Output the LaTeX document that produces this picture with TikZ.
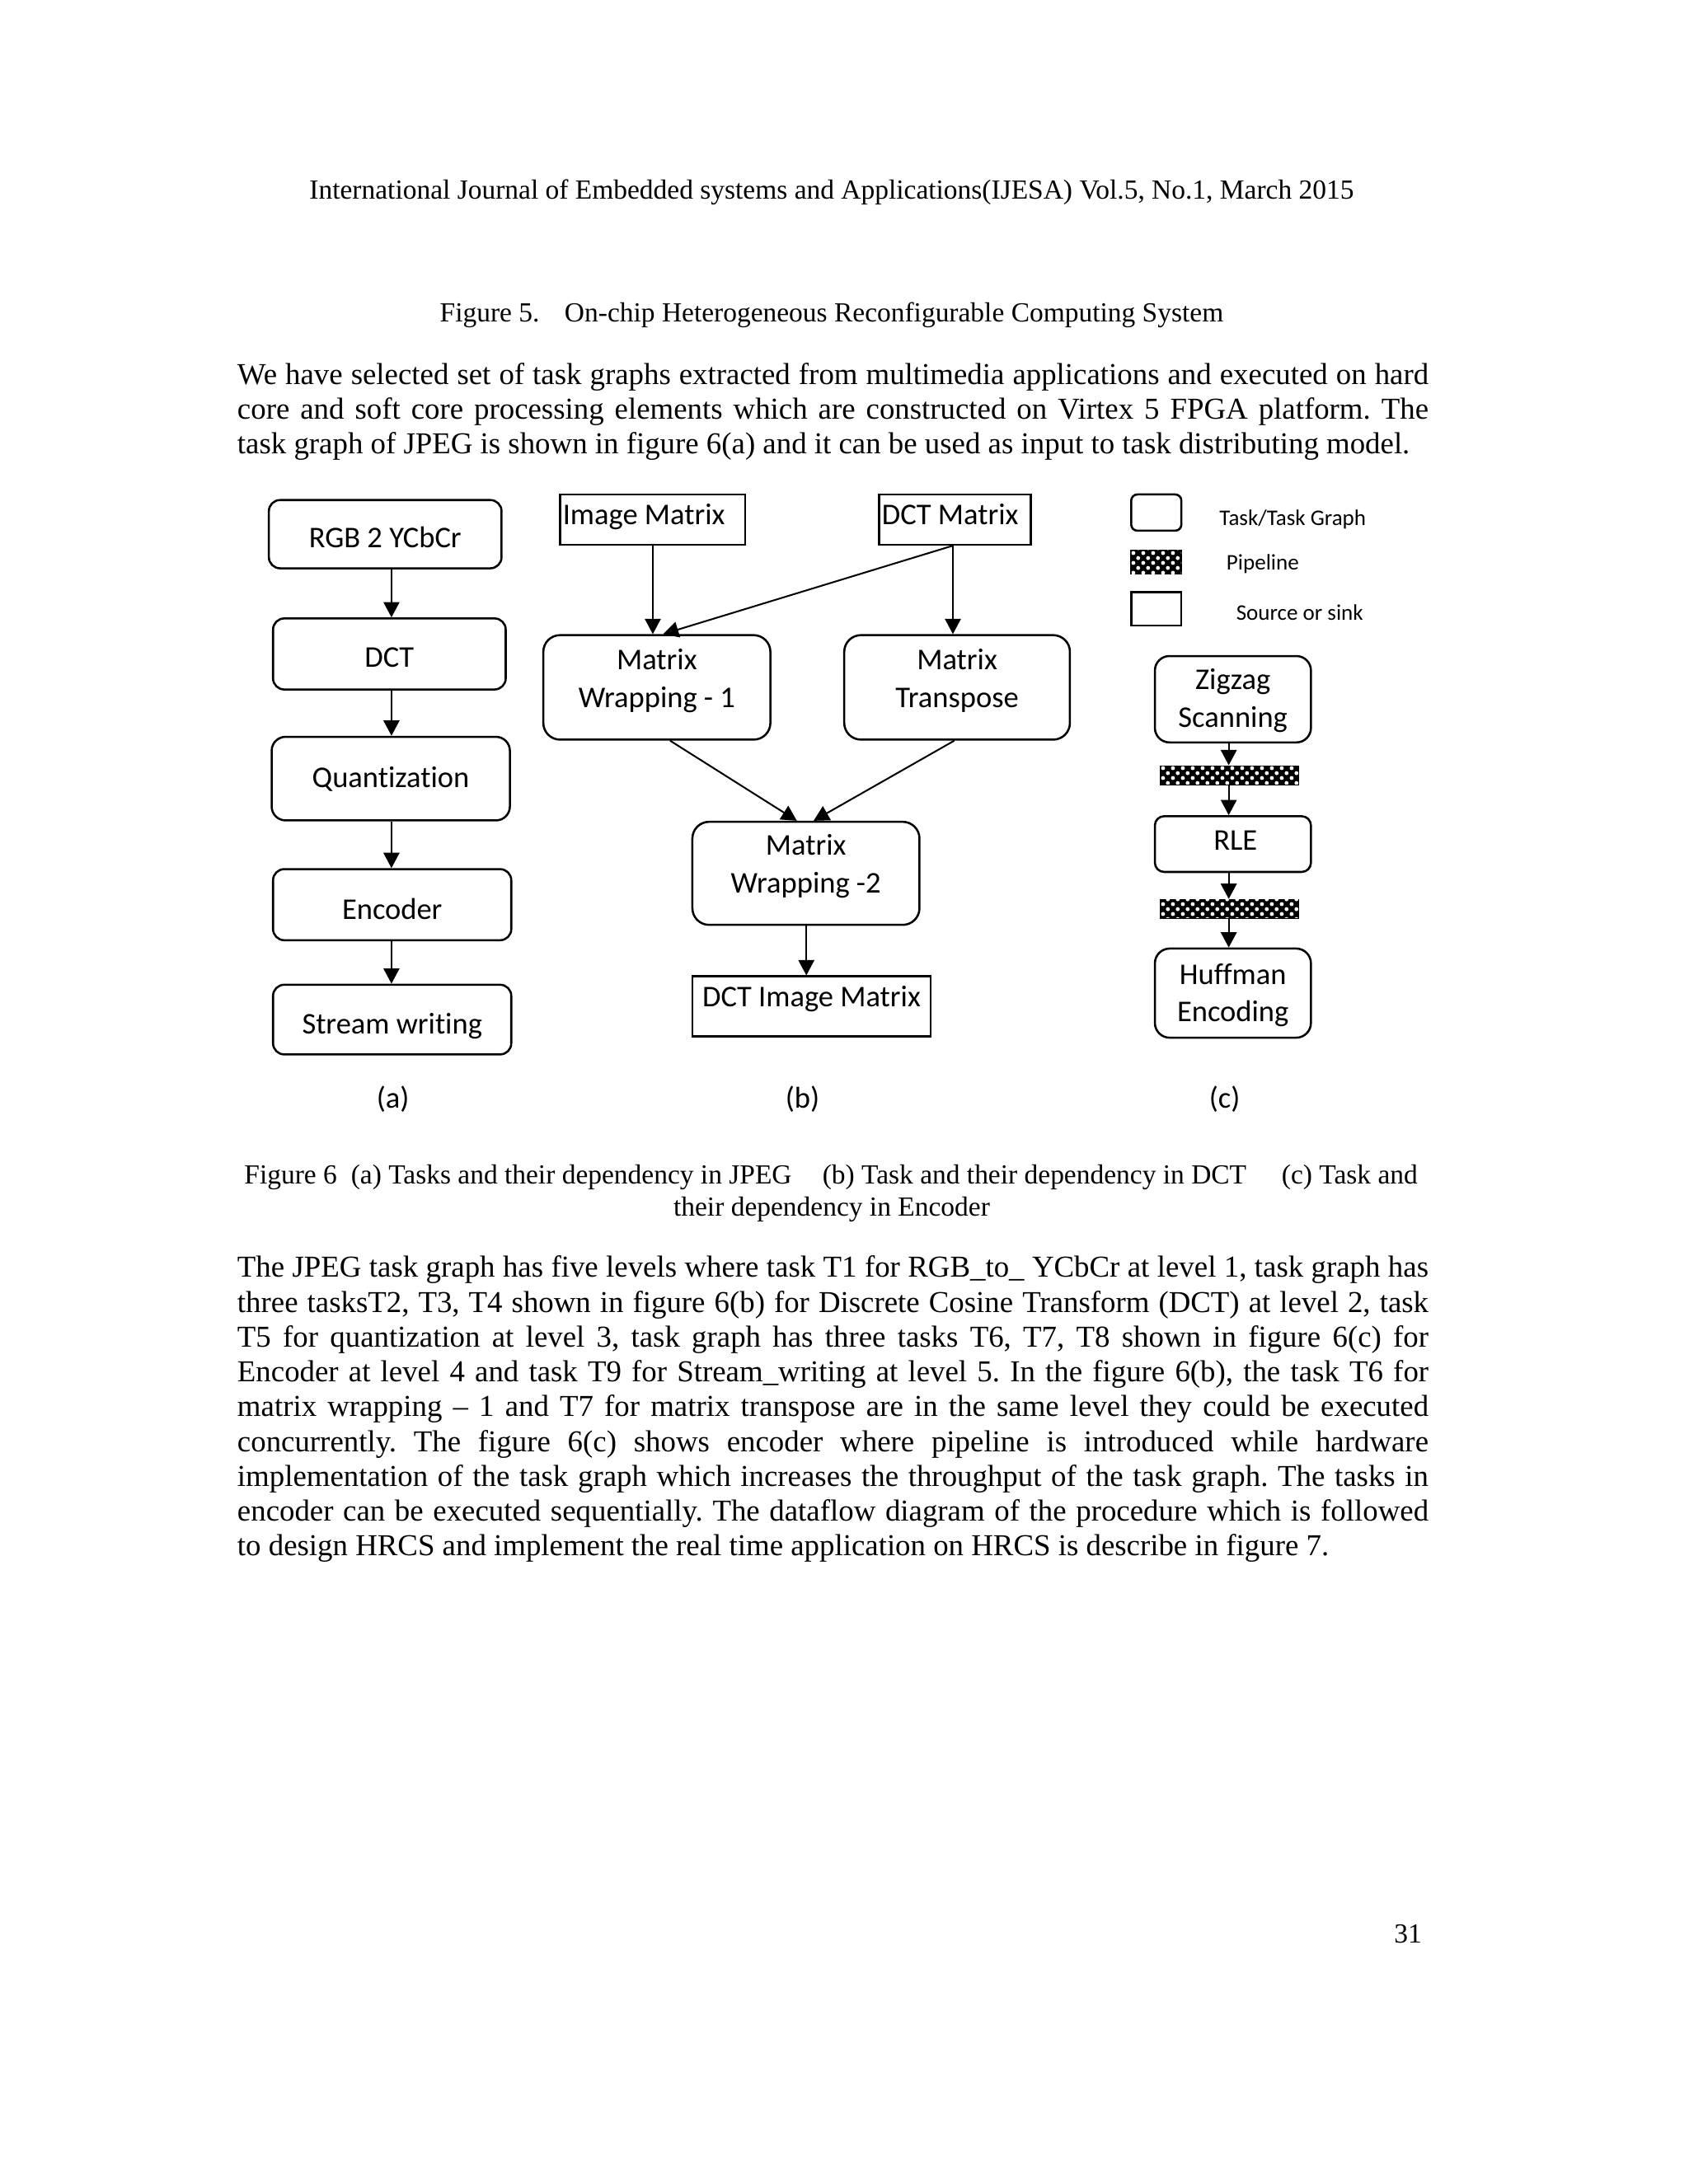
\documentclass[tikz,border=0pt]{standalone}
\usepackage{fontspec}
\setmainfont{Liberation Serif}
\newfontfamily\carlito[Ligatures=NoCommon]{Carlito}
\usetikzlibrary{arrows.meta,patterns.meta}
\newcommand\dfont{\carlito\fontsize{10.8bp}{13.5bp}\selectfont}
\newcommand\lfont{\carlito\fontsize{8bp}{10bp}\selectfont}
\newcommand\bfont{\fontsize{10.9bp}{12.5bp}\selectfont}
\newcommand\cfont{\fontsize{9.9bp}{11.5bp}\selectfont}
\newcommand\cellc[4]{\parbox[c][#2][c]{#1}{\centering\dfont #4\par\vspace{#3}}}
\newcommand\celll[4]{\parbox[c][#2][c]{#1}{\raggedright\dfont\hspace*{1bp}#4\par\vspace{#3}}}
\newcommand\jline[1]{\makebox[427.5bp][s]{#1}}
\frenchspacing
\tikzdeclarepattern{
  name=pipedots,
  type=uncolored,
  bottom left={(0bp,0bp)},
  top right={(3.5bp,3.5bp)},
  tile size={(3.5bp,3.5bp)},
  code={
    \fill (0.875bp,0.875bp) circle[radius=0.72bp];
    \fill (2.625bp,2.625bp) circle[radius=0.72bp];
  }
}
\begin{document}
\frenchspacing
\begin{tikzpicture}[x=0.5bp,y=-0.5bp,
  task/.style={draw, line width=0.75bp, inner sep=0pt, rounded corners=4bp},
  src/.style={draw, line width=0.75bp, inner sep=0pt},
  pipe/.style={draw, line width=0.6bp, inner sep=0pt, fill=black,
    postaction={pattern=pipedots, pattern color=white}},
  arr/.style={line width=0.6bp, -{Triangle[width=5.7bp,length=5.5bp]}},
  body/.style={inner sep=0pt, font=\bfont},
  capt/.style={inner sep=0pt, font=\cfont},
  leg/.style={inner sep=0pt, anchor=west, font=\lfont},
  sub/.style={inner sep=0pt, font=\dfont}]
\useasboundingbox (0,0) rectangle (1212,1568);
\fill[white] (0,0) rectangle (1212,1568);

% page text
\node[capt, anchor=base] (hdr) at (597,143) {International Journal of Embedded systems and Applications(IJESA) Vol.5, No.1, March 2015};
\node[capt, anchor=base] (fig5) at (597,231) {Figure 5.\hspace{9bp}On-chip Heterogeneous Reconfigurable Computing System};

\node[body, anchor=base west] (pa1) at (170,276) {\jline{We have selected set of task graphs extracted from multimedia applications and executed on hard}};
\node[body, anchor=base west] (pa2) at (170,301) {\jline{core and soft core processing elements which are constructed on Virtex 5 FPGA platform. The}};
\node[body, anchor=base west] (pa3) at (170,326) {task graph of JPEG is shown in figure 6(a) and it can be used as input to task distributing model.};

% (a)
\node[task] (rgb) at (276.5,383.5) {\cellc{83.5bp}{24.5bp}{-4.1bp}{\strut RGB 2 YCbCr}};
\node[task] (dct) at (279.5,469.5) {\cellc{83.5bp}{25.5bp}{-4.1bp}{\strut DCT}};
\node[task, rounded corners=5bp] (quant) at (280.5,559) {\cellc{85.5bp}{30bp}{-0.9bp}{\strut Quantization}};
\node[task] (enc) at (281.5,649.5) {\cellc{85.5bp}{25.5bp}{-5.1bp}{\strut Encoder}};
\node[task] (stream) at (281.5,732) {\cellc{85.5bp}{25bp}{-4.8bp}{\strut Stream writing}};
\coordinate (ax) at (281,0);
\draw[arr] (ax |- rgb.south) -- (ax |- dct.north);
\draw[arr] (ax |- dct.south) -- (ax |- quant.north);
\draw[arr] (ax |- quant.south) -- (ax |- enc.north);
\draw[arr] (ax |- enc.south) -- (ax |- stream.north);

% (b)
\node[src] (imgm) at (468.5,373) {\celll{66.5bp}{18bp}{1.9bp}{\strut Image Matrix}};
\node[src] (dctm) at (685.5,373) {\celll{54.5bp}{18bp}{1.9bp}{\strut DCT Matrix}};
\node[task, rounded corners=6bp] (mw1) at (471.5,493.5) {\cellc{81.5bp}{37.5bp}{4.4bp}{\strut Matrix\\\strut Wrapping - 1}};
\node[task, rounded corners=6bp] (mt) at (687,493.5) {\cellc{81bp}{37.5bp}{4.4bp}{\strut Matrix\\\strut Transpose}};
\node[task, rounded corners=6bp] (mw2) at (578.5,627) {\cellc{81.5bp}{37bp}{5bp}{\strut Matrix\\\strut Wrapping -2}};
\node[src] (dim) at (582.5,722.5) {\cellc{85.5bp}{21.5bp}{5.4bp}{\strut DCT Image Matrix}};
\coordinate (bxa) at (468.6,0);
\coordinate (bxb) at (684,0);
\coordinate (bxc) at (476,0);
\coordinate (bxd) at (481,0);
\coordinate (bxe) at (572,0);
\coordinate (bxf) at (685,0);
\coordinate (bxg) at (584,0);
\coordinate (bxh) at (578.8,0);
\draw[arr] (bxa |- imgm.south) -- (bxa |- mw1.north);
\draw[arr] (bxb |- dctm.south) -- (bxc |- mw1.north);
\draw[arr] (bxb |- dctm.south) -- (bxb |- mt.north);
\draw[arr] (bxd |- mw1.south) -- (bxe |- mw2.north);
\draw[arr] (bxf |- mt.south) -- (bxg |- mw2.north);
\draw[arr] (bxh |- mw2.south) -- (bxh |- dim.north);

% (c) legend
\node[task, rounded corners=2.2bp, minimum width=18bp, minimum height=13bp] (lgt) at (830,368) {};
\node[pipe, minimum width=18bp, minimum height=8.5bp] (lgp) at (830,403.5) {};
\node[src, minimum width=18bp, minimum height=12bp] (lgs) at (830,437) {};
\node[leg] (lgtt) at (875,373) {Task/Task Graph};
\node[leg] (lgpt) at (880,405) {Pipeline};
\node[leg] (lgst) at (887,440) {Source or sink};

% (c)
\node[task, rounded corners=5.2bp] (zig) at (885,502) {\cellc{56bp}{31bp}{-1.1bp}{\strut Zigzag\\\strut Scanning}};
\node[pipe, minimum width=49.5bp, minimum height=6.5bp] (bar1) at (882.5,556.5) {};
\node[task, rounded corners=3.3bp] (rle) at (885,606) {\cellc{56bp}{20bp}{0.9bp}{\strut\,RLE}};
\node[pipe, minimum width=49.5bp, minimum height=6.5bp] (bar2) at (882.5,652.5) {};
\node[task, rounded corners=5.3bp] (huff) at (885,713) {\cellc{56bp}{32bp}{-1.6bp}{\strut Huffman\\\strut Encoding}};
\coordinate (cx) at (882,0);
\draw[arr] (cx |- zig.south) -- (cx |- bar1.north);
\draw[arr] (cx |- bar1.south) -- (cx |- rle.north);
\draw[arr] (cx |- rle.south) -- (cx |- bar2.north);
\draw[arr] (cx |- bar2.south) -- (cx |- huff.north);

% sub labels
\node[sub] (la) at (282,789) {(a)};
\node[sub] (lb) at (576,789) {(b)};
\node[sub] (lc) at (879,789) {(c)};

% figure 6 caption
\node[capt, anchor=base west] (f6a) at (175,850) {Figure 6\hspace{5bp}(a) Tasks and their dependency in JPEG};
\node[capt, anchor=base west] (f6b) at (590,850) {(b) Task and their dependency in DCT};
\node[capt, anchor=base east] (f6c) at (1018,850) {(c) Task and};
\node[capt, anchor=base] (f6d) at (597,873) {their dependency in Encoder};

% paragraph 2
\node[body, anchor=base west] (pb1) at (170,917) {\jline{The JPEG task graph has five levels where task T1 for RGB\_to\_ YCbCr at level 1, task graph has}};
\node[body, anchor=base west] (pb2) at (170,942) {\jline{three tasksT2, T3, T4 shown in figure 6(b) for Discrete Cosine Transform (DCT) at level 2, task}};
\node[body, anchor=base west] (pb3) at (170,967) {\jline{T5 for quantization at level 3, task graph has three tasks T6, T7, T8 shown in figure 6(c) for}};
\node[body, anchor=base west] (pb4) at (170,992) {\jline{Encoder at level 4 and task T9 for Stream\_writing at level 5. In the figure 6(b), the task T6 for}};
\node[body, anchor=base west] (pb5) at (170,1017) {\jline{matrix wrapping – 1 and T7 for matrix transpose are in the same level they could be executed}};
\node[body, anchor=base west] (pb6) at (170,1042) {\jline{concurrently. The figure 6(c) shows encoder where pipeline is introduced while hardware}};
\node[body, anchor=base west] (pb7) at (170,1067) {\jline{implementation of the task graph which increases the throughput of the task graph. The tasks in}};
\node[body, anchor=base west] (pb8) at (170,1092) {\jline{encoder can be executed sequentially. The dataflow diagram of the procedure which is followed}};
\node[body, anchor=base west] (pb9) at (170,1117) {to design HRCS and implement the real time application on HRCS is describe in figure 7.};

\node[capt, anchor=base east] (pgno) at (1021,1395) {31};
\end{tikzpicture}
\end{document}
